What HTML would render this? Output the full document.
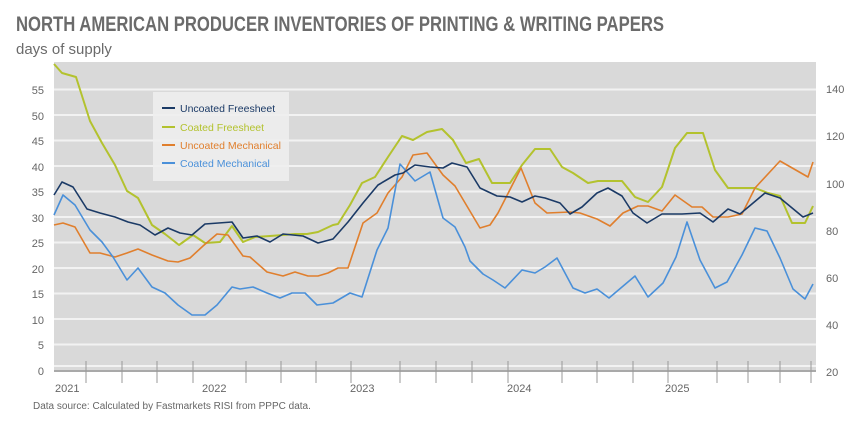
<!DOCTYPE html>
<html><head><meta charset="utf-8"><style>
body{margin:0;background:#fff;width:848px;height:422px;overflow:hidden;font-family:"Liberation Sans",sans-serif}
</style></head><body>
<svg width="848" height="422" xmlns="http://www.w3.org/2000/svg" font-family="Liberation Sans, sans-serif">
<text x="16" y="31" font-size="21" font-weight="bold" fill="#6b6b6b" textLength="648" lengthAdjust="spacingAndGlyphs">NORTH AMERICAN PRODUCER INVENTORIES OF PRINTING &amp; WRITING PAPERS</text>
<text x="16" y="54" font-size="15" fill="#6b6b6b">days of supply</text>
<rect x="54" y="62" width="762" height="310" fill="#d9d9d9"/>
<g stroke="#f2f2f2" stroke-width="2">
<line x1="54" x2="816" y1="89.5" y2="89.5"/><line x1="54" x2="816" y1="115" y2="115"/><line x1="54" x2="816" y1="140.5" y2="140.5"/><line x1="54" x2="816" y1="166" y2="166"/><line x1="54" x2="816" y1="191.5" y2="191.5"/><line x1="54" x2="816" y1="217" y2="217"/><line x1="54" x2="816" y1="242.5" y2="242.5"/><line x1="54" x2="816" y1="268" y2="268"/><line x1="54" x2="816" y1="293.5" y2="293.5"/><line x1="54" x2="816" y1="319" y2="319"/><line x1="54" x2="816" y1="344.5" y2="344.5"/><line x1="54" x2="816" y1="366" y2="366"/>
</g>
<line x1="54" x2="816" y1="371" y2="371" stroke="#999" stroke-width="1.5"/>
<g stroke="#999" stroke-width="1">
<line x1="86" x2="86" y1="361" y2="383"/><line x1="122" x2="122" y1="361" y2="383"/><line x1="157" x2="157" y1="361" y2="383"/><line x1="193" x2="193" y1="361" y2="383"/><line x1="246" x2="246" y1="361" y2="383"/><line x1="281" x2="281" y1="361" y2="383"/><line x1="316" x2="316" y1="361" y2="383"/><line x1="351" x2="351" y1="361" y2="383"/><line x1="400" x2="400" y1="361" y2="383"/><line x1="436" x2="436" y1="361" y2="383"/><line x1="472" x2="472" y1="361" y2="383"/><line x1="508" x2="508" y1="361" y2="383"/><line x1="562" x2="562" y1="361" y2="383"/><line x1="597" x2="597" y1="361" y2="383"/><line x1="633" x2="633" y1="361" y2="383"/><line x1="668" x2="668" y1="361" y2="383"/><line x1="717" x2="717" y1="361" y2="383"/><line x1="748" x2="748" y1="361" y2="383"/><line x1="780" x2="780" y1="361" y2="383"/><line x1="811" x2="811" y1="361" y2="383"/>
</g>
<g font-size="11" fill="#666" text-anchor="end">
<text x="44" y="94">55</text><text x="44" y="120">50</text><text x="44" y="145">45</text><text x="44" y="171">40</text><text x="44" y="196">35</text><text x="44" y="222">30</text><text x="44" y="247">25</text><text x="44" y="273">20</text><text x="44" y="298">15</text><text x="44" y="324">10</text><text x="44" y="349">5</text><text x="44" y="375">0</text>
</g>
<g font-size="11" fill="#666">
<text x="826" y="93">140</text><text x="826" y="140">120</text><text x="826" y="188">100</text><text x="826" y="235">80</text><text x="826" y="282">60</text><text x="826" y="329">40</text><text x="826" y="376">20</text>
<text x="55" y="392">2021</text><text x="202" y="392">2022</text><text x="350" y="392">2023</text><text x="507" y="392">2024</text><text x="665" y="392">2025</text>
<text x="33" y="409" font-size="10">Data source: Calculated by Fastmarkets RISI from PPPC data.</text>
</g>
<g fill="none" stroke-width="1.6" stroke-linejoin="round">
<polyline stroke="#b3c22e" stroke-width="2" points="54,64 62,73 76,77 90,121 102,143 115,165 127,191 138,198 152,225 165,234 179,245 193,235 205,243 220,242 232,226 243,242 255,237 270,236 283,235 295,234 307,234 318,232 333,225 338,224 350,205 362,183 375,177 388,157 402,136 413,140 427,132 442,129 453,140 466,163 479,159 492,183 510,183 522,165 535,149 550,149 562,167 573,173 588,183 598,181 610,181 622,181 635,197 648,202 662,187 675,148 687,133 703,133 715,170 728,188 755,188 768,193 780,196 792,223 805,223 813,206"/>
<polyline stroke="#e07f2d" points="54,225 63,223 75,227 90,253 100,253 115,257 127,253 138,249 152,255 168,261 178,262 190,258 203,246 217,234 228,235 243,256 250,257 267,272 283,276 295,272 308,276 318,276 328,273 338,268 348,268 363,223 377,213 388,193 402,177 413,155 427,153 443,175 455,186 480,228 490,225 498,213 521,168 535,203 547,213 570,212 580,213 597,219 610,226 623,213 638,206 648,206 662,211 675,195 692,207 702,207 713,217 728,217 742,214 755,188 780,161 808,177 813,162"/>
<polyline stroke="#4a90d9" points="54,215 63,195 75,205 90,230 102,242 113,257 127,280 138,268 152,287 165,293 178,305 192,315 205,315 217,305 232,287 240,289 253,287 267,293 280,298 292,293 305,293 317,305 333,303 350,293 362,297 377,250 388,228 400,164 415,181 430,172 443,218 455,227 465,247 470,261 483,274 493,280 505,288 522,270 535,273 545,267 557,258 573,288 585,293 597,289 609,298 622,287 635,276 648,297 663,283 676,257 687,222 700,260 715,288 727,282 742,255 755,228 767,231 780,258 793,289 805,299 813,284"/>
<polyline stroke="#1b3a66" points="54,195 62,182 73,187 87,209 100,213 115,217 128,222 140,225 155,235 168,228 180,233 192,235 205,224 232,222 243,238 257,236 270,242 283,234 303,236 318,243 333,239 348,222 363,203 378,185 395,175 403,173 415,165 430,167 443,168 452,163 467,167 480,188 497,196 510,197 522,202 535,196 545,198 560,203 570,214 582,207 597,193 608,188 622,196 633,213 647,223 662,214 682,214 700,213 713,222 728,209 740,214 765,193 780,198 803,217 813,213"/>
</g>
<rect x="153" y="92" width="136" height="89" fill="#efefef" fill-opacity="0.85"/>
<g stroke-width="2">
<line x1="162" x2="175" y1="108" y2="108" stroke="#1b3a66"/>
<line x1="162" x2="175" y1="127" y2="127" stroke="#b3c22e"/>
<line x1="162" x2="175" y1="145" y2="145" stroke="#e07f2d"/>
<line x1="162" x2="175" y1="163" y2="163" stroke="#4a90d9"/>
</g>
<g font-size="10.5">
<text x="180" y="112" fill="#1b3a66">Uncoated Freesheet</text>
<text x="180" y="131" fill="#b3c22e">Coated Freesheet</text>
<text x="180" y="149" fill="#e07f2d">Uncoated Mechanical</text>
<text x="180" y="167" fill="#4a90d9">Coated Mechanical</text>
</g>
</svg>
</body></html>
